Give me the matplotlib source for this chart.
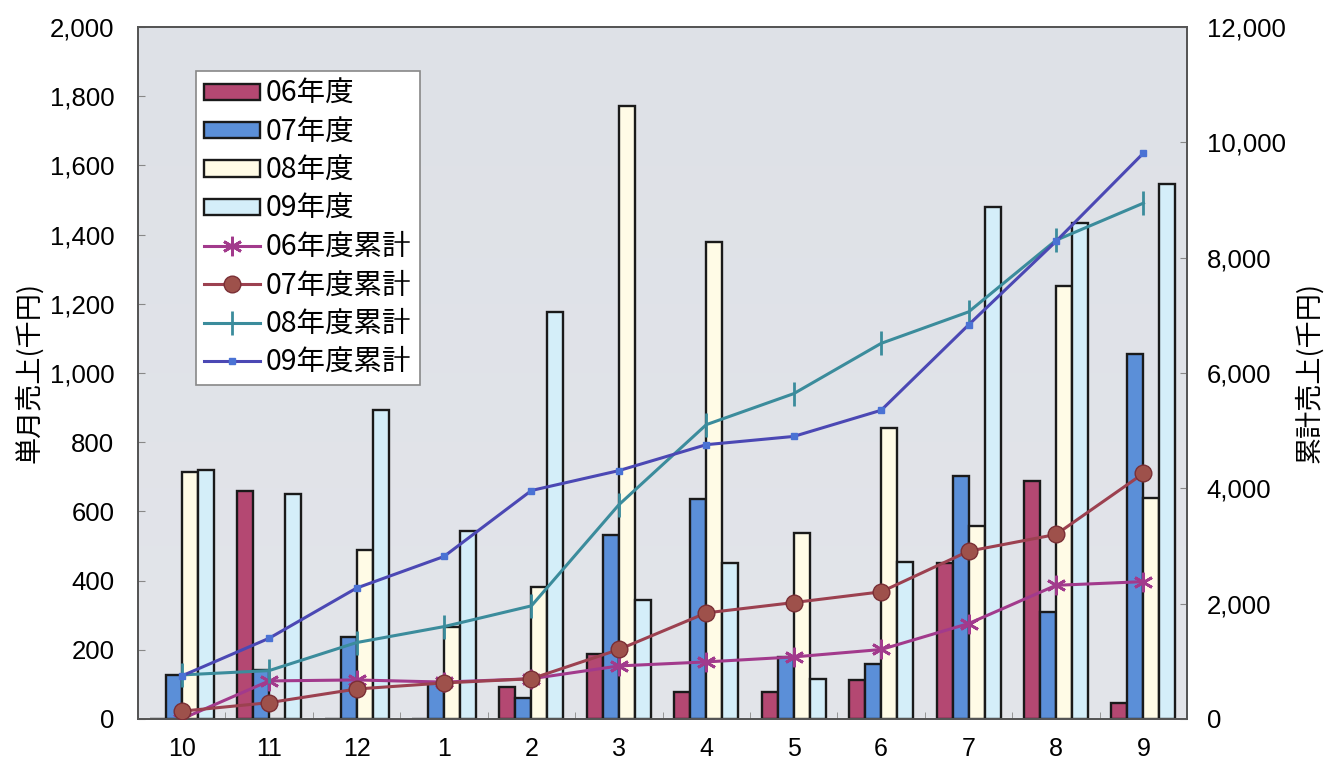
import numpy as np
import matplotlib.pyplot as plt
from matplotlib.patches import Patch
from matplotlib.lines import Line2D

plt.rcParams['font.family'] = ['Liberation Sans', 'Noto Sans CJK JP', 'DejaVu Sans']

months = ['10', '11', '12', '1', '2', '3', '4', '5', '6', '7', '8', '9']

# monthly sales (thousand yen)
sales_06 = [0, 658, 0, 0, 93, 189, 77, 77, 113, 451, 687, 46]
sales_07 = [127, 142, 237, 103, 62, 532, 637, 179, 158, 703, 310, 1056]
sales_08 = [715, 0, 489, 265, 382, 1771, 1378, 538, 842, 558, 1250, 640]
sales_09 = [720, 651, 894, 544, 1176, 345, 451, 116, 453, 1479, 1433, 1545]

# cumulative sales (thousand yen)
cum_06 = [0, 660, 677, 640, 698, 920, 990, 1076, 1205, 1655, 2318, 2382]
cum_07 = [135, 283, 520, 625, 698, 1205, 1840, 2019, 2205, 2910, 3200, 4260]
cum_08 = [764, 839, 1325, 1602, 1962, 3715, 5104, 5642, 6514, 7060, 8302, 8946]
cum_09 = [746, 1400, 2270, 2818, 3962, 4307, 4757, 4900, 5354, 6835, 8283, 9814]

bar_labels = ['06年度', '07年度', '08年度', '09年度']
line_labels = ['06年度累計', '07年度累計', '08年度累計', '09年度累計']
bar_colors = ['#b44872', '#5b8fd8', '#fffbe6', '#d4eef9']

fig = plt.figure(figsize=(13.29, 7.67), dpi=100)
ax = fig.add_axes([0.1038, 0.0626, 0.7895, 0.9022])
ax2 = ax.twinx()

# soft gradient for the plot area
grad = np.linspace(0, 1, 256).reshape(-1, 1)
ax.imshow(grad, extent=[-0.5, 11.5, 0, 2000], aspect='auto', origin='lower',
          cmap=plt.matplotlib.colors.LinearSegmentedColormap.from_list(
              'bg', ['#e3e5ea', '#dee1e7']), zorder=0)

x = np.arange(len(months))
w = 0.183
for i, (vals, col) in enumerate(zip([sales_06, sales_07, sales_08, sales_09], bar_colors)):
    ax.bar(x + (i - 1.5) * w, vals, width=w, color=col, edgecolor='#1a1a1a',
           linewidth=1.7, zorder=2)

ax.set_xlim(-0.5, 11.5)
ax.set_ylim(0, 2000)
ax.set_yticks(np.arange(0, 2001, 200))
ax.set_yticklabels([f'{v:,}' for v in range(0, 2001, 200)])
ax.set_xticks(x)
ax.set_xticklabels(months)
ax.set_xticks(np.arange(0.5, 11, 1), minor=True)
ax.tick_params(axis='x', which='major', length=0, pad=13, labelsize=18)
ax.tick_params(axis='x', which='minor', direction='in', length=5, color='#888888')
ax.tick_params(axis='y', direction='in', length=5, color='#888888', labelsize=18.5, pad=17)
ax.set_ylabel('単月売上(千円)', family=['Noto Sans CJK JP'], fontsize=19.5, labelpad=5)

# cumulative lines on the right axis
ax2.plot(x, cum_06, color='#a23a8c', lw=2.2, marker=(6, 2, 0), ms=14, mew=2,
         mec='#a23a8c', zorder=3)
ax2.plot(x, cum_07, color='#9c4150', lw=2.2, marker='o', ms=12, mfc='#9e514b',
         mec='#7a2f35', zorder=3)
ax2.plot(x, cum_08, color='#3b8c9c', lw=2.2, marker='|', ms=17, mew=2,
         mec='#3b8c9c', zorder=3)
ax2.plot(x, cum_09, color='#4b48b4', lw=2.2, marker='s', ms=5, mfc='#4a72d4',
         mec='#4a72d4', zorder=3)
ax2.set_ylim(0, 12000)
ax2.set_yticks(np.arange(0, 12001, 2000))
ax2.set_yticklabels([f'{v:,}' for v in range(0, 12001, 2000)])
ax2.tick_params(axis='y', direction='in', length=5, color='#888888', labelsize=18.5, pad=14)
ax2.set_ylabel('累計売上(千円)', family=['Noto Sans CJK JP'], fontsize=19.5, labelpad=7)

for a in (ax, ax2):
    for s in a.spines.values():
        s.set_color('#555555')
        s.set_linewidth(1.3)

handles = [Patch(facecolor=c, edgecolor='#1a1a1a', linewidth=1.7) for c in bar_colors]
handles += [
    Line2D([], [], color='#a23a8c', lw=2.2, marker=(6, 2, 0), ms=14, mew=2),
    Line2D([], [], color='#9c4150', lw=2.2, marker='o', ms=12, mfc='#9e514b', mec='#7a2f35'),
    Line2D([], [], color='#3b8c9c', lw=2.2, marker='|', ms=17, mew=2),
    Line2D([], [], color='#4b48b4', lw=2.2, marker='s', ms=5, mfc='#4a72d4', mec='#4a72d4'),
]
leg = ax2.legend(handles, bar_labels + line_labels, loc='upper left',
                 bbox_to_anchor=(0.055, 0.937), fancybox=False, framealpha=1,
                 facecolor='white', edgecolor='#888888',
                 prop={'family': 'Noto Sans CJK JP', 'size': 20.5},
                 handlelength=1.95, handleheight=0.5, handletextpad=0.2,
                 labelspacing=0.29, borderpad=0.3, borderaxespad=0)
leg.get_frame().set_linewidth(1.2)
leg.set_zorder(10)

fig.savefig('out.png', dpi=100, facecolor='white')
